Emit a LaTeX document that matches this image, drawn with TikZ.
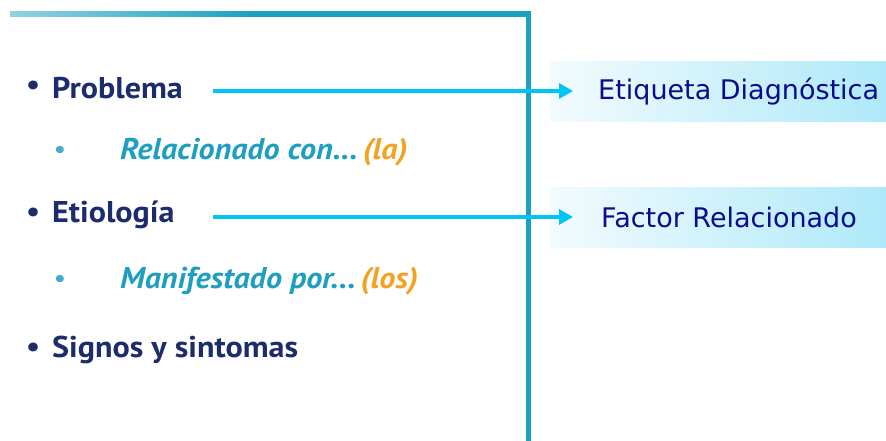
\documentclass[tikz,border=0pt]{standalone}
\usepackage{fontspec}
\setmainfont{PT Sans}[FakeStretch=1.07]
\newfontfamily\boxfont{DejaVu Sans}
\usetikzlibrary{arrows.meta}
\definecolor{navy}{HTML}{1C2C6C}
\definecolor{tealt}{HTML}{1E9EC0}
\definecolor{orng}{HTML}{F2A323}
\definecolor{frame}{HTML}{1CA2C0}
\definecolor{arrc}{HTML}{00C4F4}
\definecolor{boxl}{HTML}{F2FBFE}
\definecolor{boxr}{HTML}{AEE9F9}
\definecolor{boxtext}{HTML}{0C0C8A}
\pgfdeclarehorizontalshading{topline}{100bp}{color(0bp)=(white); color(8bp)=(white!90!frame); color(48bp)=(frame); color(100bp)=(frame)}
\tikzset{
  main/.style={anchor=west, inner sep=0pt, font=\fontsize{30}{32}\selectfont\bfseries, text=navy},
  mainbul/.style={anchor=west, inner sep=0pt, font=\fontsize{29}{32}\selectfont\bfseries, text=navy},
  sub/.style={anchor=west, inner sep=0pt, font=\fontsize{30}{32}\selectfont\bfseries\itshape, text=tealt},
  subbul/.style={anchor=west, inner sep=0pt, font=\fontsize{24}{26}\selectfont\bfseries, text=tealt!85},
  box/.style={rectangle, draw=none, left color=boxl, right color=boxr, minimum width=336pt, minimum height=60pt, inner sep=0pt, anchor=west},
  boxlbl/.style={anchor=west, inner sep=0pt, font=\boxfont\fontsize{27}{30}\selectfont, text=boxtext},
  arr/.style={draw=arrc, line width=3.2pt, -{Triangle[length=14pt, width=15pt]}}
}
\begin{document}
\begin{tikzpicture}[x=1pt, y=-1pt]
\useasboundingbox[fill=white] (0,0) rectangle (886,441);
% frame
\shade[shading=topline] (10,11.5) rectangle (530.5,16.5);
\fill[frame] (525.5,11.5) rectangle (530.5,441);
% left list
\node[mainbul] (pb1) at (26,88) {•};
\node[main] (prob) at (52,88) {Problema};
\node[subbul] (b1) at (54,152) {•};
\node[sub] (rel) at (120,152) {Relacionado con...\,\textcolor{orng}{(la)}};
\node[mainbul] (pb2) at (26,215) {•};
\node[main] (etio) at (52,215) {Etiología};
\node[subbul] (b2) at (54,281) {•};
\node[sub] (man) at (120,281) {Manifestado por...\,\textcolor{orng}{(los)}};
\node[mainbul] (pb3) at (26,350) {•};
\node[main] (sig) at (52,350) {Signos y sintomas};
% right boxes
\node[box] (box1) at (550,92) {};
\node[boxlbl] (lbl1) at (598,92) {Etiqueta Diagnóstica};
\node[box] (box2) at (550,217.5) {};
\node[boxlbl] (lbl2) at (601,217.5) {Factor Relacionado};
% arrows
\coordinate (s1) at (213,91);
\coordinate (e1) at (573,91);
\coordinate (s2) at (213,217);
\coordinate (e2) at (573,217);
\draw[arr] (s1) -- (e1);
\draw[arr] (s2) -- (e2);
\end{tikzpicture}
\end{document}
